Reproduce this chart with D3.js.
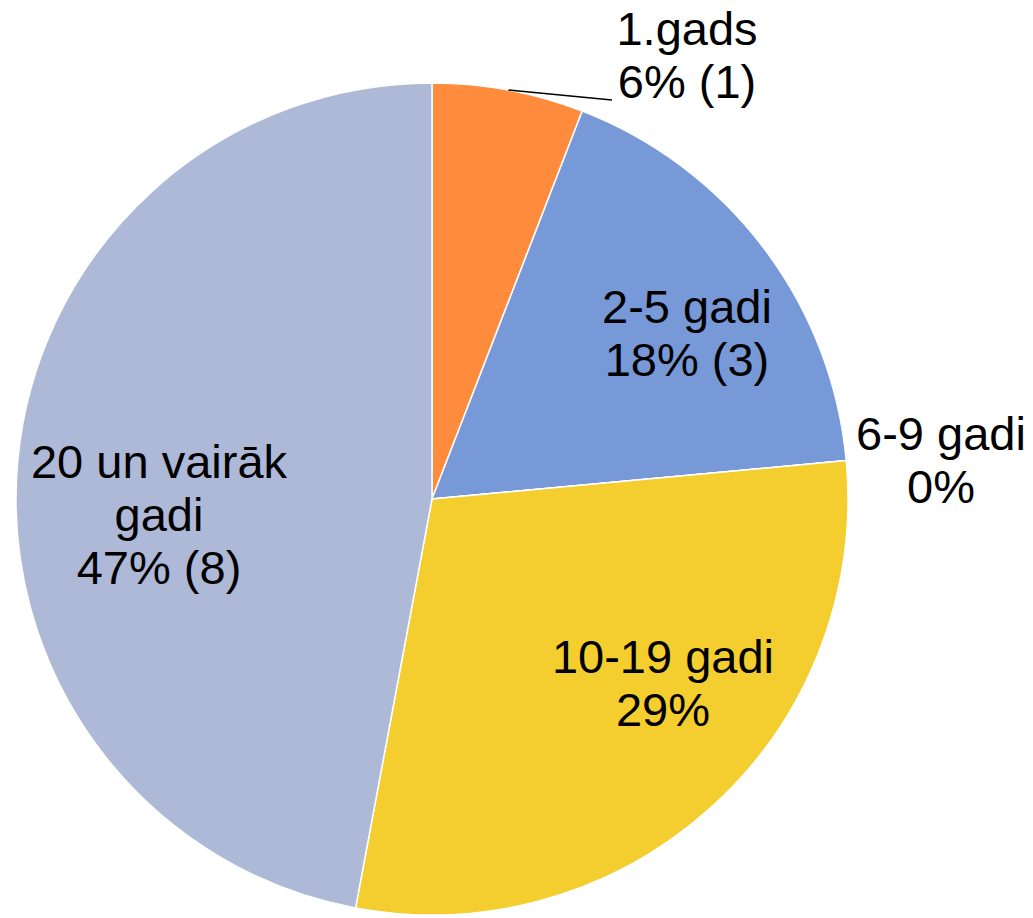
<!DOCTYPE html>
<html>
<head>
<meta charset="utf-8">
<script src="https://cdn.jsdelivr.net/npm/d3@7"></script>
<style>
  body { margin: 0; background: #fff; }
  svg text { font-family: "Liberation Sans", Arial, sans-serif; }
</style>
</head>
<body>
<svg id="chart" width="1033" height="918"></svg>
<script>
const categories = ["1.gads", "2-5 gadi", "6-9 gadi", "10-19 gadi", "20 un vairāk gadi"]
const counts = [1, 3, 0, 5, 8]
const labelLines = [
    ["1.gads", "6% (1)"],
    ["2-5 gadi", "18% (3)"],
    ["6-9 gadi", "0%"],
    ["10-19 gadi", "29%"],
    ["20 un vairāk", "gadi", "47% (8)"]
]
const colors = ["#FF8B3C", "#7799D8", "#A5A5A5", "#F4CD2E", "#ADB9D6"]

const width = 1033, height = 918
const cx = 432, cy = 499, radius = 416
const fontSize = 47, lineHeight = 53

// label block centres, offset from pie centre (layout only)
const labelOffsets = [[255, -444], [255, -166], [509, -39], [231, 184], [-273, 15]]

const svg = d3.select("#chart")
const g = svg.append("g").attr("transform", `translate(${cx},${cy})`)

const pie = d3.pie().sort(null).value(d => d)
const arcs = pie(counts)
const arc = d3.arc().innerRadius(0).outerRadius(radius)

g.selectAll("path.slice")
    .data(arcs)
    .enter().append("path")
    .attr("class", "slice")
    .attr("d", arc)
    .attr("fill", (d, i) => colors[i])
    .attr("stroke", "#fff")
    .attr("stroke-width", 1.5)

// leader line for the small first slice
const a0 = (arcs[0].startAngle + arcs[0].endAngle) / 2
g.append("path")
    .attr("fill", "none")
    .attr("stroke", "#000")
    .attr("stroke-width", 1.5)
    .attr("d", d3.line()([
        [radius * Math.sin(a0), -radius * Math.cos(a0)],
        [labelOffsets[0][0] - 75, labelOffsets[0][1] + 45]
    ]))

labelLines.forEach((lines, i) => {
    const [dx, dy] = labelOffsets[i]
    const top = dy - (lines.length - 1) * lineHeight / 2 + fontSize * 0.36
    const t = g.append("text")
        .attr("text-anchor", "middle")
        .attr("font-size", fontSize)
        .attr("fill", "#000")
    lines.forEach((line, j) => {
        t.append("tspan")
            .attr("x", dx)
            .attr("y", top + j * lineHeight)
            .text(line)
    })
})
</script>
</body>
</html>
